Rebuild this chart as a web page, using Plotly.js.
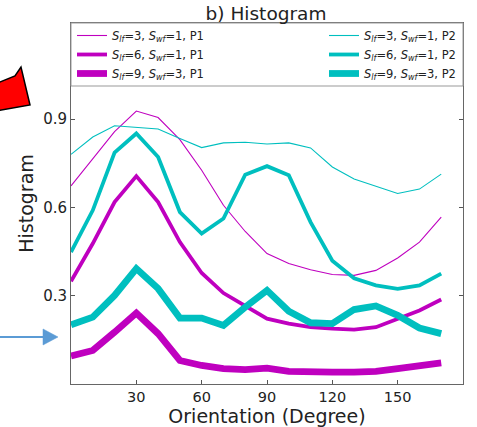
<!DOCTYPE html>
<html>
<head>
<meta charset="utf-8">
<script src="https://cdn.plot.ly/plotly-3.0.1.min.js"></script>
<style>html,body{margin:0;padding:0;background:#fff;}#chart{width:477px;height:427px;}</style>
</head>
<body>
<div id="chart"></div>
<script>
// Orientation bins (degrees)
const orientation = [0,10,20,30,40,50,60,70,80,90,100,110,120,130,140,150,160,170];

// P1 series (magenta)
const p1_s3 = [0.673,0.766,0.857,0.927,0.905,0.830,0.726,0.607,0.518,0.443,0.409,0.388,0.372,0.369,0.386,0.428,0.482,0.567];
const p1_s6 = [0.349,0.477,0.618,0.706,0.618,0.482,0.377,0.309,0.265,0.222,0.205,0.193,0.188,0.185,0.193,0.222,0.250,0.287];
const p1_s9 = [0.095,0.114,0.176,0.241,0.171,0.080,0.063,0.052,0.049,0.054,0.043,0.040,0.040,0.040,0.043,0.052,0.061,0.072];

// P2 series (cyan)
const p2_s3 = [0.780,0.839,0.877,0.871,0.866,0.834,0.803,0.819,0.821,0.815,0.819,0.802,0.737,0.696,0.672,0.647,0.662,0.713];
const p2_s6 = [0.448,0.590,0.786,0.851,0.771,0.584,0.511,0.562,0.711,0.740,0.709,0.550,0.419,0.359,0.335,0.323,0.335,0.375];
const p2_s9 = [0.201,0.227,0.301,0.392,0.324,0.224,0.224,0.199,0.261,0.318,0.247,0.208,0.205,0.253,0.265,0.233,0.190,0.171];

const names = {
  p1_s3: "<i>S</i><sub><i>lf</i></sub>=3, <i>S</i><sub><i>wf</i></sub>=1, P1",
  p1_s6: "<i>S</i><sub><i>lf</i></sub>=6, <i>S</i><sub><i>wf</i></sub>=1, P1",
  p1_s9: "<i>S</i><sub><i>lf</i></sub>=9, <i>S</i><sub><i>wf</i></sub>=3, P1",
  p2_s3: "<i>S</i><sub><i>lf</i></sub>=3, <i>S</i><sub><i>wf</i></sub>=1, P2",
  p2_s6: "<i>S</i><sub><i>lf</i></sub>=6, <i>S</i><sub><i>wf</i></sub>=1, P2",
  p2_s9: "<i>S</i><sub><i>lf</i></sub>=9, <i>S</i><sub><i>wf</i></sub>=3, P2"
};

const xTicks = [30,60,90,120,150];
const yTicks = [0.3,0.6,0.9];
const yTickText = ["0.3","0.6","0.9"];

const MAG = "#bf00bf", CYN = "#00bfbf";

function tr(y, name, color, width, legend) {
  return {x: orientation, y: y, name: name, type: "scatter", mode: "lines",
          line: {color: color, width: width}, legend: legend};
}

const data = [
  tr(p1_s3, names.p1_s3, MAG, 1.1, "legend"),
  tr(p1_s6, names.p1_s6, MAG, 3.8, "legend"),
  tr(p1_s9, names.p1_s9, MAG, 6.8, "legend"),
  tr(p2_s3, names.p2_s3, CYN, 1.1, "legend2"),
  tr(p2_s6, names.p2_s6, CYN, 3.8, "legend2"),
  tr(p2_s9, names.p2_s9, CYN, 6.8, "legend2")
];

// pixel -> paper helpers for decorations
const L = 71, R = 463, T = 23, B = 384;
const px = x => (x - L) / (R - L);
const py = y => (B - y) / (B - T);
function path(pts) {
  return "M " + pts.map(p => px(p[0]).toFixed(4) + "," + py(p[1]).toFixed(4)).join(" L ") + " Z";
}

const redArrow = [[-5,84],[15,76],[21,67],[30,105],[-5,111]];
const blueHead = [[43,329],[58,337],[43,345]];

const legFont = {family: "DejaVu Sans", size: 11.5, color: "#222"};

const layout = {
  width: 477, height: 427,
  margin: {l: L, r: 477 - R, t: T, b: 427 - B, pad: 0},
  paper_bgcolor: "#fff", plot_bgcolor: "#fff",
  font: {family: "DejaVu Sans", color: "#222"},
  title: {text: "b) Histogram", font: {family: "DejaVu Sans", size: 18.5, color: "#222"},
          x: 266/477, xanchor: "center", y: 1 - 14/427, yanchor: "middle", yref: "container"},
  xaxis: {range: [0, 180], tickvals: xTicks, ticktext: xTicks.map(String),
          ticks: "inside", ticklen: 4, tickcolor: "#555", showline: true, linecolor: "#666",
          linewidth: 1, mirror: "ticks", showgrid: false, zeroline: false,
          tickfont: {family: "DejaVu Sans", size: 14.5, color: "#222"},
          title: {text: "Orientation (Degree)", font: {family: "DejaVu Sans", size: 19, color: "#222"}, standoff: 8}},
  yaxis: {range: [0, 1.2262], tickvals: yTicks, ticktext: yTickText,
          ticks: "inside", ticklen: 4, tickcolor: "#555", showline: true, linecolor: "#666",
          linewidth: 1, mirror: "ticks", showgrid: false, zeroline: false,
          tickfont: {family: "DejaVu Sans", size: 15, color: "#222"},
          title: {text: "Histogram", font: {family: "DejaVu Sans", size: 19, color: "#222"}, standoff: 4}},
  showlegend: true,
  legend: {x: px(72), y: py(21), xanchor: "left", yanchor: "top", bgcolor: "rgba(0,0,0,0)",
           borderwidth: 0, font: legFont, tracegroupgap: 0, itemwidth: 30},
  legend2: {x: px(324), y: py(21), xanchor: "left", yanchor: "top", bgcolor: "rgba(0,0,0,0)",
           borderwidth: 0, font: legFont, tracegroupgap: 0, itemwidth: 30},
  shapes: [
    {type: "rect", xref: "paper", yref: "paper", x0: 0, x1: 1, y0: py(86), y1: 1,
     fillcolor: "#fff", line: {color: "#999", width: 1}, layer: "above"},
    {type: "path", xref: "paper", yref: "paper", path: path(redArrow),
     fillcolor: "#ff0000", line: {color: "#000", width: 1.5}, layer: "above"},
    {type: "line", xref: "paper", yref: "paper", x0: px(-2), y0: py(337), x1: px(45), y1: py(337),
     line: {color: "#5b9bd5", width: 1.8}, layer: "above"},
    {type: "path", xref: "paper", yref: "paper", path: path(blueHead),
     fillcolor: "#5b9bd5", line: {color: "#5b9bd5", width: 0.5}, layer: "above"}
  ]
};

Plotly.newPlot("chart", data, layout, {displayModeBar: false, staticPlot: true});
</script>
</body>
</html>
